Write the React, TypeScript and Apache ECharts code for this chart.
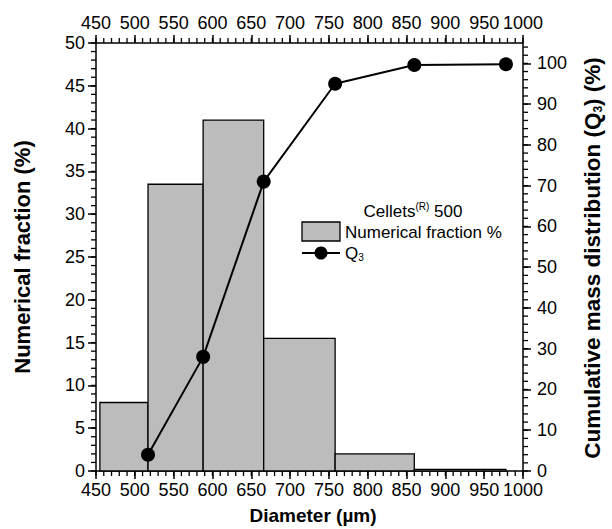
import React, { useEffect, useRef } from "react";
import * as echarts from "echarts";

const binEdges = [455, 517, 588, 666, 758, 860, 978];
const numericalFraction = [8, 33.5, 41, 15.5, 2, 0.2];
const q3Diameter = [517, 588, 666, 758, 860, 978];
const q3Values = [4, 28, 71, 95, 99.6, 99.8];

const X_MIN = 450;
const X_MAX = 1000;
const Y_LEFT_MAX = 50;
const Y_RIGHT_MAX = 105;

const FONT = "'Liberation Sans', Arial, sans-serif";
const BAR_FILL = "#bcbcbc";

function steps(from: number, to: number, step: number): number[] {
  const out: number[] = [];
  for (let v = from; v <= to + 1e-9; v += step) out.push(Math.round(v * 1000) / 1000);
  return out;
}

export default function App() {
  const ref = useRef<HTMLDivElement>(null);
  useEffect(() => {
    if (!ref.current) return;
    const chart = echarts.init(ref.current, undefined, { renderer: "svg" });

    const majorCommon = {
      axisLine: { show: true, onZero: false, lineStyle: { color: "#000", width: 1.5 } },
      axisTick: { show: true, inside: false, length: 8, lineStyle: { color: "#000", width: 1.5 } },
      splitLine: { show: false },
    };
    const labelCommon = {
      color: "#000", fontSize: 18, fontFamily: FONT,
      formatter: (v: number) => String(v),
    };

    const barData = numericalFraction.map((v, i) => [binEdges[i], binEdges[i + 1], v]);
    const lineData = q3Diameter.map((d, i) => [d, q3Values[i]]);

    const MINOR_LEN = 5;
    const minorSeries = (side: "bottom" | "top" | "left" | "right", data: number[][], yAxisIndex: number) => ({
      type: "custom",
      xAxisIndex: 0,
      yAxisIndex,
      clip: false,
      silent: true,
      z: 10,
      data,
      encode: { x: 0, y: 1 },
      renderItem: (_p: any, api: any) => {
        const p = api.coord([api.value(0), api.value(1)]);
        let dx = 0, dy = 0;
        if (side === "bottom") dy = MINOR_LEN;
        if (side === "top") dy = -MINOR_LEN;
        if (side === "left") dx = -MINOR_LEN;
        if (side === "right") dx = MINOR_LEN;
        return {
          type: "line",
          shape: { x1: p[0], y1: p[1], x2: p[0] + dx, y2: p[1] + dy },
          style: { stroke: "#000", lineWidth: 1.3 },
        };
      },
    });

    const xMinor = steps(X_MIN, X_MAX, 10);
    const yLeftMinor = steps(0, Y_LEFT_MAX, 1);
    const yRightMinor = steps(0, 104, 2);

    chart.setOption({
      animation: false,
      grid: { left: 96, right: 89, top: 43, bottom: 58, containLabel: false },
      xAxis: [
        {
          type: "value", position: "bottom", min: X_MIN, max: X_MAX, interval: 50,
          ...majorCommon, axisLabel: { ...labelCommon, margin: 10 },
        },
        {
          type: "value", position: "top", min: X_MIN, max: X_MAX, interval: 50,
          ...majorCommon, axisLabel: { ...labelCommon, margin: 11 },
        },
      ],
      yAxis: [
        {
          type: "value", position: "left", min: 0, max: Y_LEFT_MAX, interval: 5,
          ...majorCommon, axisLabel: { ...labelCommon, margin: 11 },
        },
        {
          type: "value", position: "right", min: 0, max: Y_RIGHT_MAX, interval: 10,
          ...majorCommon, axisLabel: { ...labelCommon, margin: 14, showMaxLabel: false },
        },
      ],
      series: [
        {
          type: "custom",
          xAxisIndex: 0,
          yAxisIndex: 0,
          data: barData,
          encode: { x: [0, 1], y: 2 },
          z: 2,
          renderItem: (_params: any, api: any) => {
            const s = api.coord([api.value(0), api.value(2)]);
            const e = api.coord([api.value(1), 0]);
            return {
              type: "rect",
              shape: { x: s[0], y: s[1], width: e[0] - s[0], height: e[1] - s[1] },
              style: { fill: BAR_FILL, stroke: "#000", lineWidth: 1.3 },
            };
          },
        },
        {
          type: "line",
          xAxisIndex: 0,
          yAxisIndex: 1,
          data: lineData,
          symbol: "circle",
          symbolSize: 14,
          z: 5,
          itemStyle: { color: "#000" },
          lineStyle: { color: "#000", width: 2 },
        },
        minorSeries("bottom", xMinor.map((v) => [v, 0]), 0),
        minorSeries("top", xMinor.map((v) => [v, Y_LEFT_MAX]), 0),
        minorSeries("left", yLeftMinor.map((v) => [X_MIN, v]), 0),
        minorSeries("right", yRightMinor.map((v) => [X_MAX, v]), 1),
      ],
      graphic: [
        {
          type: "text", x: 22, y: 257, rotation: Math.PI / 2,
          style: {
            text: "Numerical fraction (%)", fill: "#000", fontSize: 22, fontWeight: "bold", fontFamily: FONT,
            align: "center", verticalAlign: "middle", textAlign: "center", textVerticalAlign: "middle",
          },
        },
        {
          type: "text", x: 592, y: 258, rotation: Math.PI / 2,
          style: {
            text: "{a|Cumulative mass distribution (Q}{s|3}{a|) (%)}",
            rich: {
              a: { fontSize: 22.5, fontWeight: "bold", fontFamily: FONT, fill: "#000", color: "#000" },
              s: { fontSize: 12, fontWeight: "bold", fontFamily: FONT, fill: "#000", color: "#000", verticalAlign: "bottom", padding: [10, 0, 0, 0] },
            },
            align: "center", verticalAlign: "middle", textAlign: "center", textVerticalAlign: "middle",
          },
        },
        {
          type: "text", x: 313, y: 515,
          style: {
            text: "Diameter (µm)", fill: "#000", fontSize: 19, fontWeight: "bold", fontFamily: FONT,
            align: "center", verticalAlign: "middle", textAlign: "center", textVerticalAlign: "middle",
          },
        },
        {
          type: "text", x: 413, y: 211,
          style: {
            text: "{a|Cellets}{s|(R)}{a| 500}",
            rich: {
              a: { fontSize: 17, fontFamily: FONT, fill: "#000", color: "#000" },
              s: { fontSize: 10, fontFamily: FONT, fill: "#000", color: "#000", verticalAlign: "top", padding: [0, 0, 9, 0] },
            },
            align: "center", verticalAlign: "middle", textAlign: "center", textVerticalAlign: "middle",
          },
        },
        {
          type: "rect",
          shape: { x: 302, y: 222, width: 38, height: 19 },
          style: { fill: BAR_FILL, stroke: "#000", lineWidth: 1.3 },
        },
        {
          type: "text", x: 345, y: 232,
          style: {
            text: "Numerical fraction %", fill: "#000", fontSize: 17, fontFamily: FONT,
            align: "left", verticalAlign: "middle", textAlign: "left", textVerticalAlign: "middle",
          },
        },
        {
          type: "line",
          shape: { x1: 302, y1: 253, x2: 340, y2: 253 },
          style: { stroke: "#000", lineWidth: 2 },
        },
        {
          type: "circle",
          shape: { cx: 321, cy: 253, r: 6.5 },
          style: { fill: "#000" },
        },
        {
          type: "text", x: 345, y: 253,
          style: {
            text: "{a|Q}{s|3}",
            rich: {
              a: { fontSize: 17, fontFamily: FONT, fill: "#000", color: "#000" },
              s: { fontSize: 10, fontFamily: FONT, fill: "#000", color: "#000", verticalAlign: "bottom", padding: [9, 0, 0, 0] },
            },
            align: "left", verticalAlign: "middle", textAlign: "left", textVerticalAlign: "middle",
          },
        },
      ],
    });
    return () => chart.dispose();
  }, []);

  return (
    <div
      ref={ref}
      style={{ position: "fixed", left: 0, top: 0, width: 612, height: 529, background: "#fff" }}
    />
  );
}
